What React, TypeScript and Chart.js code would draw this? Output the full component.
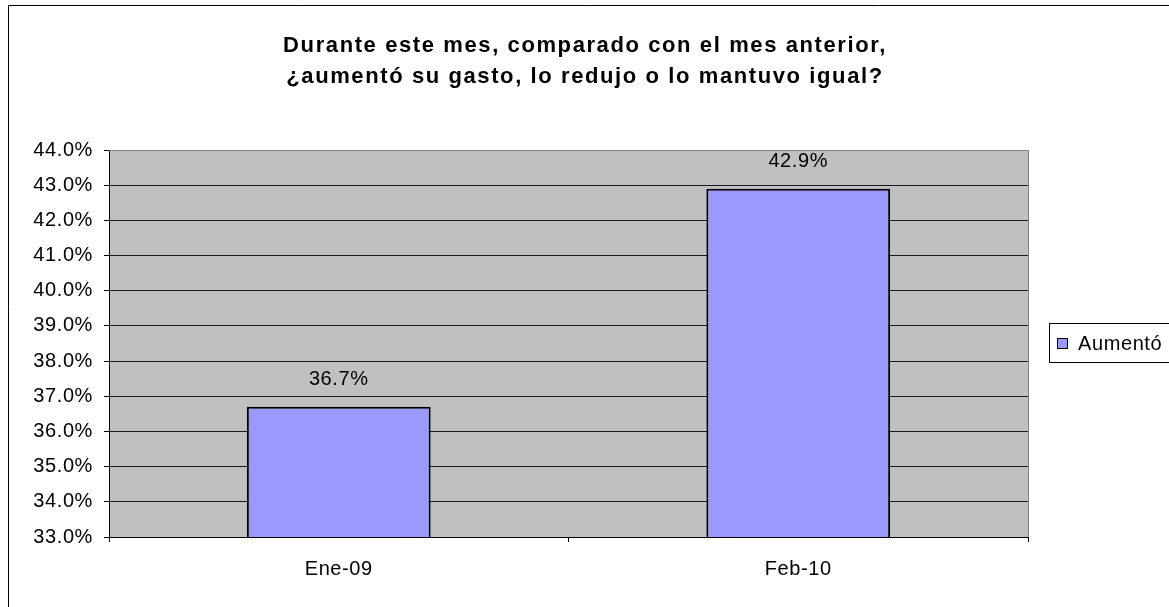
import React, { useEffect, useRef } from "react";
import { Chart, registerables } from "chart.js";

Chart.register(...registerables);

const titleLines = [
  "Durante este mes, comparado con el mes anterior,",
  "¿aumentó su gasto, lo redujo o lo mantuvo igual?",
];
const categories = ["Ene-09", "Feb-10"];
const seriesLabel = "Aumentó";
const seriesValues = [36.7, 42.9];
const yMin = 33;
const yMax = 44;
const yStep = 1;

const FONT = "Arial, 'Liberation Sans', sans-serif";

const decorPlugin = {
  id: "decor",
  beforeDraw(chart: any) {
    const { ctx, chartArea } = chart;
    ctx.save();
    ctx.fillStyle = "#ffffff";
    ctx.fillRect(0, 0, chart.width, chart.height);
    // outer frame
    ctx.strokeStyle = "#000000";
    ctx.lineWidth = 1;
    ctx.beginPath();
    ctx.moveTo(8.5, chart.height + 2);
    ctx.lineTo(8.5, 5.5);
    ctx.lineTo(chart.width + 2, 5.5);
    ctx.stroke();
    // plot background
    ctx.fillStyle = "#C0C0C0";
    ctx.fillRect(chartArea.left, chartArea.top, chartArea.right - chartArea.left, chartArea.bottom - chartArea.top);
    ctx.restore();
    ctx.letterSpacing = "0.6px";
  },
  afterDatasetsDraw(chart: any) {
    const { ctx, chartArea } = chart;
    ctx.save();
    // top and right plot border (gray)
    ctx.strokeStyle = "#808080";
    ctx.lineWidth = 1;
    ctx.beginPath();
    ctx.moveTo(chartArea.left, Math.round(chartArea.top) + 0.5);
    ctx.lineTo(Math.round(chartArea.right) + 0.5, Math.round(chartArea.top) + 0.5);
    ctx.lineTo(Math.round(chartArea.right) + 0.5, chartArea.bottom);
    ctx.stroke();

    // data labels
    const meta = chart.getDatasetMeta(0);
    ctx.fillStyle = "#000000";
    ctx.letterSpacing = "0.6px";
    ctx.font = `20px ${FONT}`;
    ctx.textAlign = "center";
    ctx.textBaseline = "middle";
    meta.data.forEach((bar: any, i: number) => {
      const v = chart.data.datasets[0].data[i];
      ctx.fillText(v.toFixed(1) + "%", bar.x, bar.y - 27);
    });

    // title
    ctx.letterSpacing = "1.6px";
    ctx.font = `bold 22px ${FONT}`;
    ctx.fillText(titleLines[0], 585, 46);
    ctx.fillText(titleLines[1], 585, 77);

    // legend
    ctx.letterSpacing = "0.6px";
    ctx.strokeStyle = "#000000";
    ctx.lineWidth = 1;
    ctx.strokeRect(1049.5, 323.5, 140, 39);
    ctx.fillStyle = "#9999FF";
    ctx.fillRect(1057, 338, 11, 11);
    ctx.strokeRect(1057.5, 338.5, 10, 10);
    ctx.fillStyle = "#000000";
    ctx.font = `20px ${FONT}`;
    ctx.textAlign = "left";
    ctx.fillText(chart.data.datasets[0].label, 1078, 344);
    ctx.restore();
  },
};

export default function App() {
  const ref = useRef<HTMLCanvasElement | null>(null);
  useEffect(() => {
    if (!ref.current) return;
    const chart = new Chart(ref.current, {
      type: "bar",
      data: {
        labels: categories,
        datasets: [
          {
            label: seriesLabel,
            data: seriesValues,
            backgroundColor: "#9999FF",
            borderColor: "#000000",
            borderWidth: 2,
            barPercentage: 0.4,
            categoryPercentage: 1,
          },
        ],
      },
      options: {
        responsive: false,
        animation: false,
        layout: { padding: { top: 150, right: 141, left: 0, bottom: 0 } },
        plugins: {
          legend: { display: false },
          title: { display: false },
          tooltip: { enabled: false },
        },
        scales: {
          x: {
            afterFit: (s: any) => {
              s.height = 70;
            },
            grid: {
              offset: true,
              drawOnChartArea: false,
              drawTicks: true,
              tickLength: 5,
              color: "#000000",
            },
            border: { color: "#000000", width: 1 },
            ticks: {
              color: "#000000",
              font: { family: FONT, size: 20 },
              padding: 15,
            },
          },
          y: {
            min: yMin,
            max: yMax,
            afterFit: (s: any) => {
              s.width = 109;
            },
            grid: {
              color: (c: any) => (c.tick && c.tick.value === yMax ? "#808080" : "#1a1a1a"),
              tickColor: "#000000",
              tickLength: 5,
            },
            border: { color: "#000000", width: 1 },
            ticks: {
              stepSize: yStep,
              color: "#000000",
              font: { family: FONT, size: 20 },
              padding: 11,
              callback: (v: any) => Number(v).toFixed(1) + "%",
            },
          },
        },
      },
      plugins: [decorPlugin],
    });
    return () => chart.destroy();
  }, []);
  return (
    <div style={{ position: "fixed", left: 0, top: 0, width: 1169, height: 607 }}>
      <canvas ref={ref} width={1169} height={607} />
    </div>
  );
}
